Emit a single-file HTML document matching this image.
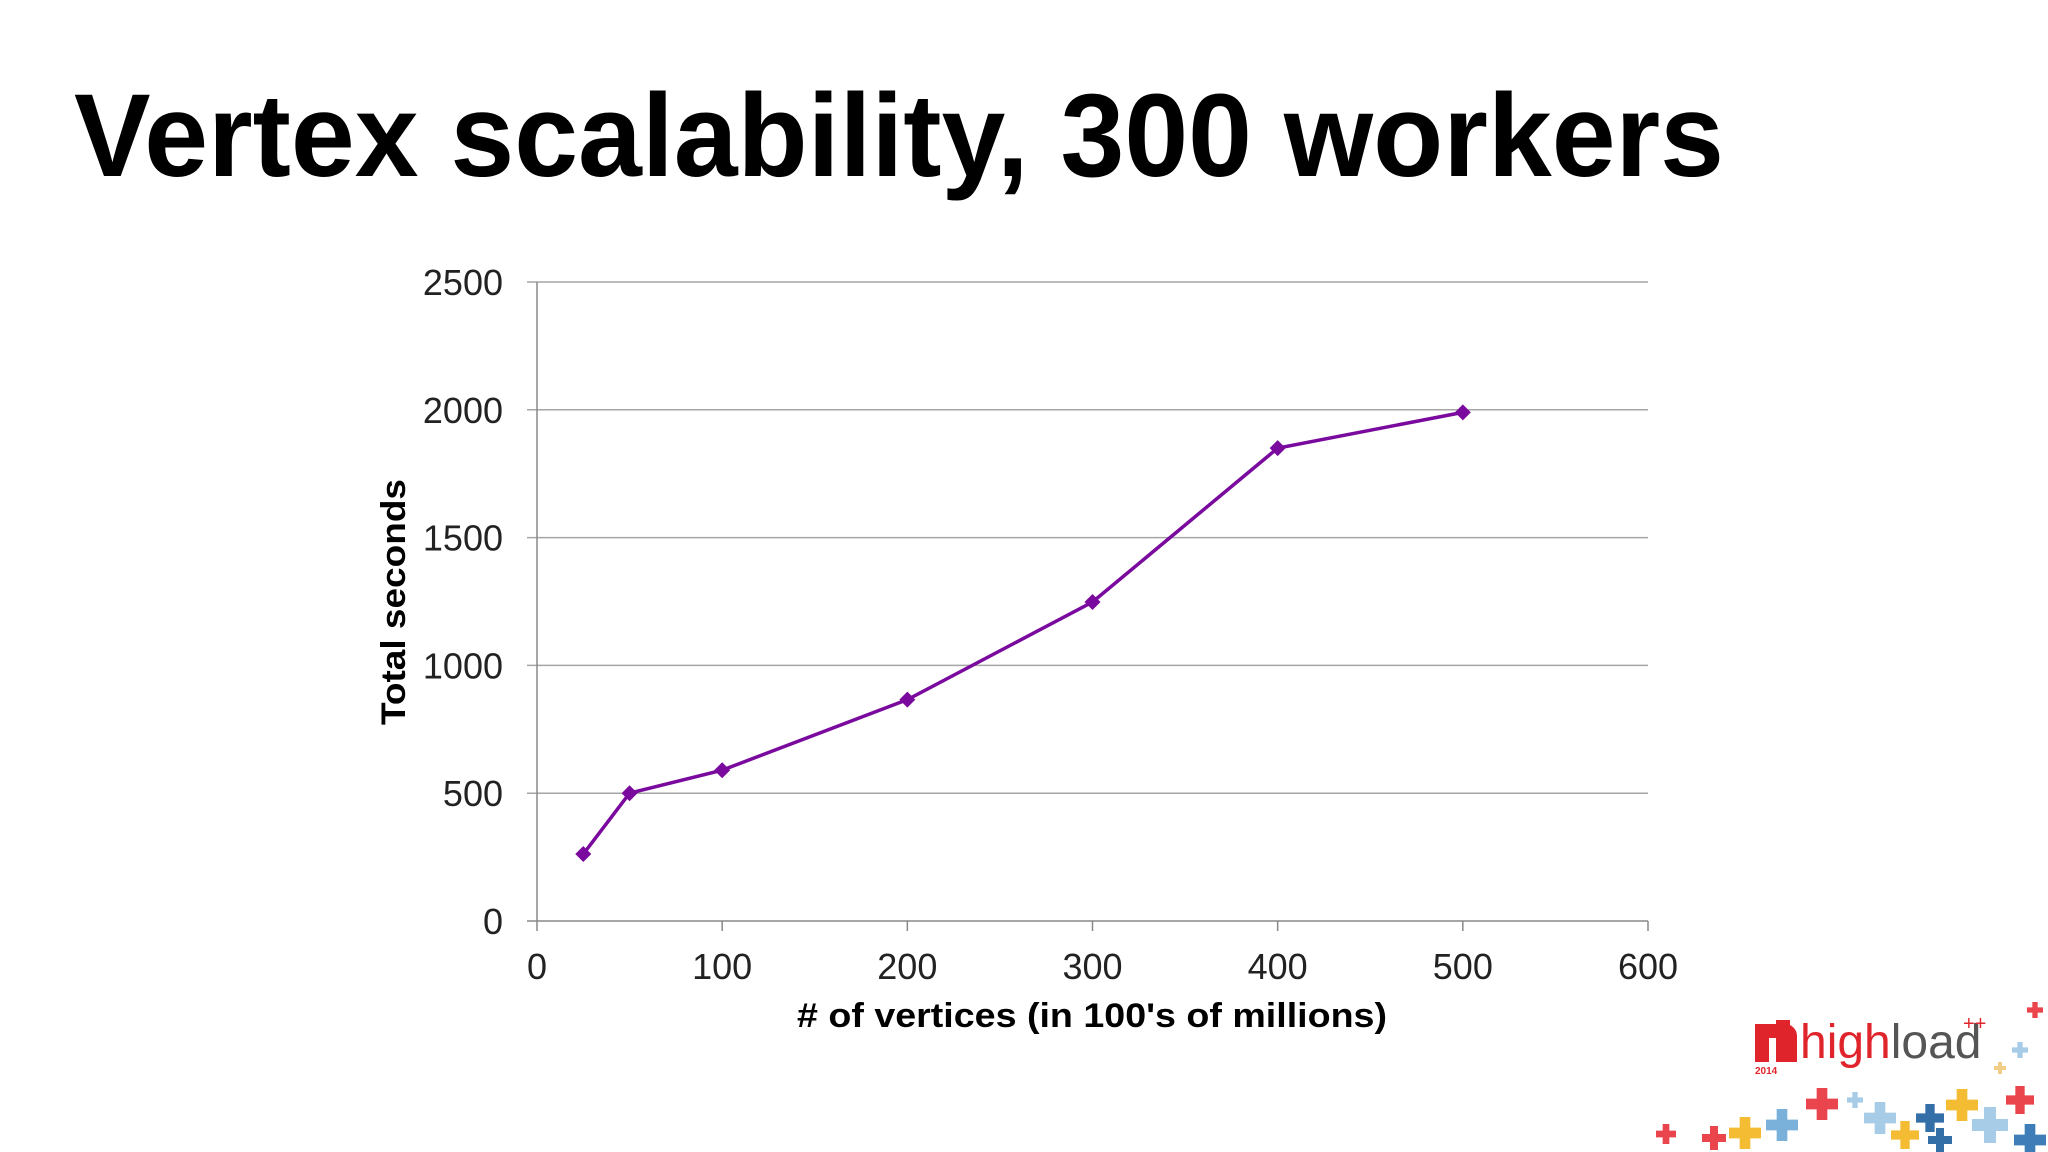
<!DOCTYPE html>
<html><head><meta charset="utf-8"><style>
html,body{margin:0;padding:0;background:#fff;}
svg{display:block;font-family:"Liberation Sans",Arial,sans-serif;}
</style></head><body>
<svg id="c" width="2048" height="1152" viewBox="0 0 2048 1152">
<text x="74" y="176" font-size="118" font-weight="bold" textLength="1650" lengthAdjust="spacingAndGlyphs">Vertex scalability, 300 workers</text>
<g id="plot"></g>
<g>
<rect x="1755" y="1024" width="14" height="38" fill="#e0242b"/>
<path d="M1755 1024 h30 a12 12 0 0 1 12 12 v26 h-12 v-24 h-18 z" fill="#e0242b"/>
<rect x="1776" y="1020" width="14" height="42" fill="#e0242b"/>
<text x="1800" y="1058" font-size="48" fill="#e0242b">high<tspan fill="#555">load</tspan></text>
<text x="1963" y="1030" font-size="20" fill="#e0242b">++</text>
<text x="1755" y="1074" font-size="10" font-weight="bold" fill="#e0242b">2014</text>
<g id="crosses"></g>
</g>
</svg>
<script>
const xVals=[25,50,100,200,300,400,500];
const yVals=[262,500,590,866,1248,1850,1990];
const xTicks=[0,100,200,300,400,500,600];
const yTicks=[0,500,1000,1500,2000,2500];
const NS='http://www.w3.org/2000/svg';
const L=537,R=1648,T=282,B=921;
const sx=v=>L+(v-0)/(600)*(R-L);
const sy=v=>B-(v/2500)*(B-T);
const g=document.getElementById('plot');
function mk(t,a,p){const e=document.createElementNS(NS,t);for(const k in a)e.setAttribute(k,a[k]);(p||g).appendChild(e);return e;}
yTicks.forEach(v=>{
 const ln=mk('line',{x1:L-10,x2:R,y1:sy(v),y2:sy(v),stroke:v===0?'#888':'#a6a6a6','stroke-width':1.5});
 
 
 const t=mk('text',{x:503,y:sy(v)+13,'font-size':36,'text-anchor':'end',fill:'#222'});
 t.textContent=v;
 
 
});
const ax=mk('line',{x1:L,x2:L,y1:T,y2:B,stroke:'#888','stroke-width':1.5});


xTicks.forEach(v=>{
 const tk=mk('line',{x1:sx(v),x2:sx(v),y1:B,y2:B+10,stroke:'#888','stroke-width':1.5});
 
 
 const t=mk('text',{x:sx(v),y:979,'font-size':36,'text-anchor':'middle',fill:'#222'});
 t.textContent=v;
 
 
});
const xt=mk('text',{x:1092,y:1027,'font-size':34,'font-weight':'bold','text-anchor':'middle',textLength:590,lengthAdjust:'spacingAndGlyphs'});
xt.textContent="# of vertices (in 100's of millions)";


const yt=mk('text',{x:0,y:0,'font-size':34,'font-weight':'bold','text-anchor':'middle',textLength:246,lengthAdjust:'spacingAndGlyphs',transform:'translate(405,602) rotate(-90)'});
yt.textContent='Total seconds';


const pts=xVals.map((x,i)=>sx(x)+','+sy(yVals[i])).join(' ');
const pl=mk('polyline',{points:pts,fill:'none',stroke:'#7a0a9e','stroke-width':3.5});


xVals.forEach((x,i)=>{
 const cx=sx(x),cy=sy(yVals[i]);
 const m=mk('polygon',{points:`${cx},${cy-8} ${cx+8},${cy} ${cx},${cy+8} ${cx-8},${cy}`,fill:'#7a0a9e'});
 
 
});
const cr=document.getElementById('crosses');
[[1666,1134,'#e8303a',10],[1714,1138,'#e8303a',12],[1745,1133,'#f2b51c',16],[1782,1125,'#6aa9d6',16],[1822,1104,'#e8303a',16],[1855,1100,'#9cc7e6',8],[1880,1118,'#9cc7e6',16],[1905,1135,'#f2b51c',14],[1930,1118,'#1e5f9e',14],[1962,1105,'#f2b51c',16],[1990,1125,'#9cc7e6',18],[2020,1100,'#e8303a',14],[2035,1010,'#e8303a',8],[2020,1050,'#9cc7e6',8],[2000,1068,'#f0c97a',6],[1940,1140,'#1e5f9e',12],[2030,1140,'#2a6fb0',16]].forEach(c=>{
 const [x,y,col,s]=c;
 const p=mk('path',{d:`M${x-s/3} ${y-s} h${2*s/3} v${2*s/3} h${2*s/3} v${2*s/3} h-${2*s/3} v${2*s/3} h-${2*s/3} v-${2*s/3} h-${2*s/3} v-${2*s/3} h${2*s/3} z`,fill:col,opacity:0.9},cr);
 
 
});
</script>
</body></html>
